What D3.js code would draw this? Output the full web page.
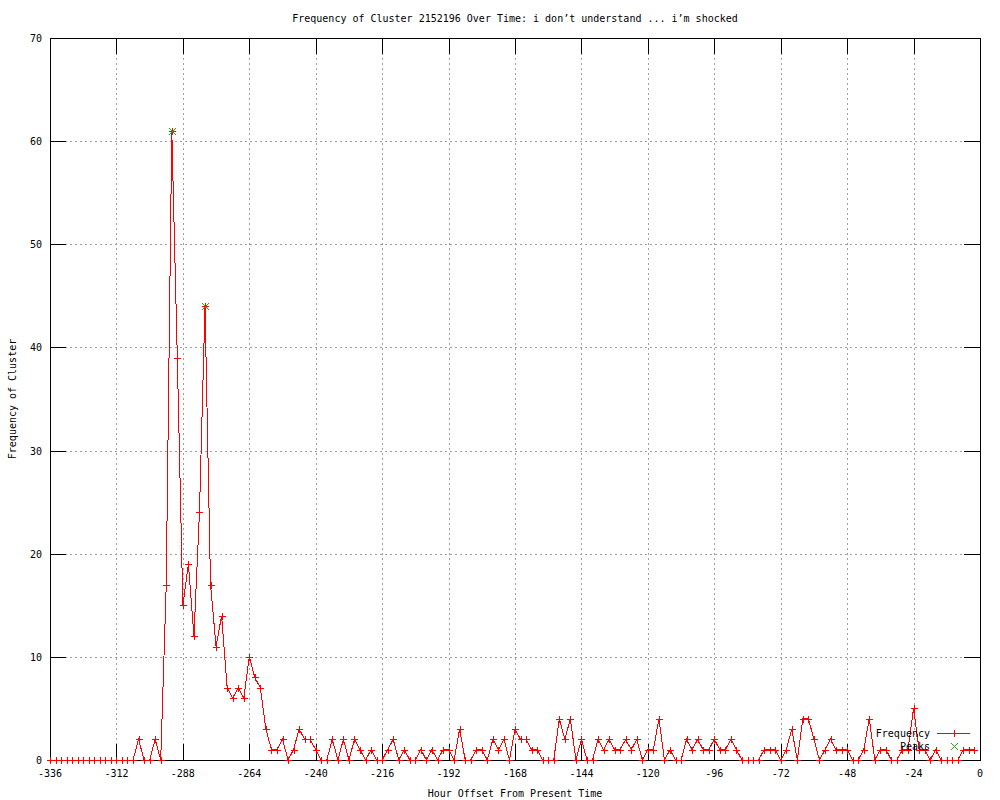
<!DOCTYPE html>
<html>
<head>
<meta charset="utf-8">
<script src="https://cdn.jsdelivr.net/npm/d3@7"></script>
<style>
  body { margin: 0; background: #fff; }
  text { font-family: 'DejaVu Sans Mono', monospace; font-size: 10px; fill: #000; }
</style>
</head>
<body>
<script>
const title = 'Frequency of Cluster 2152196 Over Time: i don’t understand ... i’m shocked';
const xLabel = 'Hour Offset From Present Time';
const yLabel = 'Frequency of Cluster';

// one count every 2 hours, starting at hour -336
const firstHour = -336;
const hourStep = 2;
const frequency = [
  0, 0, 0, 0, 0, 0, 0, 0, 0, 0, 0, 0, 0, 0, 0, 0,
  2, 0, 0, 2, 0,
  17, 61, 39, 15, 19, 12, 24, 44, 17, 11, 14,
  7, 6, 7, 6, 10, 8, 7, 3, 1, 1,
  2, 0, 1, 3, 2, 2, 1, 0, 0, 2,
  0, 2, 0, 2, 1, 0, 1, 0, 0, 1,
  2, 0, 1, 0, 0, 1, 0, 1, 0, 1,
  1, 0, 3, 0, 0, 1, 1, 0, 2, 1,
  2, 0, 3, 2, 2, 1, 1, 0, 0, 0,
  4, 2, 4, 0, 2, 0, 0, 2, 1, 2,
  1, 1, 2, 1, 2, 0, 1, 1, 4, 0,
  1, 0, 0, 2, 1, 2, 1, 1, 2, 1,
  1, 2, 1, 0, 0, 0, 0, 1, 1, 1,
  0, 1, 3, 0, 4, 4, 2, 0, 1, 2,
  1, 1, 1, 0, 0, 1, 4, 0, 1, 1,
  0, 0, 1, 1, 5, 1, 1, 0, 1, 0,
  0, 0, 0, 1, 1, 1,
];

const peakHours = [-292, -280];
const peakCounts = [61, 44];

const xTicks = [-336, -312, -288, -264, -240, -216, -192, -168, -144, -120, -96, -72, -48, -24, 0];
const yTicks = [0, 10, 20, 30, 40, 50, 60, 70];

const width = 1000;
const height = 800;
const plot = { left: 50, right: 980, top: 38, bottom: 760 };
const tickLen = 16;
const red = '#ff0000';
const green = '#00c000';

function main() {
  const svg = d3.select('body').append('svg').attr('width', width).attr('height', height);
  const [xScale, yScale] = createScales();

  createGrid(svg, xScale, yScale);
  createAxes(svg, xScale, yScale);
  createLabels(svg);

  const series = frequency.map((v, i) => ({ hour: firstHour + i * hourStep, count: v }));
  const peaks = peakHours.map((h, i) => ({ hour: h, count: peakCounts[i] }));

  const line = d3.line().x(d => xScale(d.hour)).y(d => yScale(d.count));

  svg.append('path')
    .datum(series)
    .attr('d', line)
    .attr('fill', 'none')
    .attr('stroke', red)
    .attr('stroke-width', 1)
    .attr('shape-rendering', 'crispEdges');

  svg.append('g')
    .selectAll('path')
    .data(series)
    .enter()
    .append('path')
    .attr('d', d => plus(xScale(d.hour), yScale(d.count)))
    .attr('stroke', red)
    .attr('shape-rendering', 'crispEdges');

  svg.append('g')
    .selectAll('path')
    .data(peaks)
    .enter()
    .append('path')
    .attr('d', d => cross(xScale(d.hour), yScale(d.count)))
    .attr('stroke', green)
    .attr('fill', 'none')
    .attr('shape-rendering', 'crispEdges');

  createLegend(svg);
}

function createScales() {
  const xScale = d3.scaleLinear().domain([-336, 0]).range([plot.left, plot.right]);
  const yScale = d3.scaleLinear().domain([0, 70]).range([plot.bottom, plot.top]);
  return [xScale, yScale];
}

function createGrid(svg, xScale, yScale) {
  const grid = svg.append('g')
    .attr('stroke', '#a0a0a0')
    .attr('stroke-dasharray', '2,3')
    .attr('shape-rendering', 'crispEdges');

  grid.selectAll('.gx')
    .data(xTicks.slice(1, -1))
    .enter()
    .append('line')
    .attr('x1', d => Math.round(xScale(d)) + 0.5)
    .attr('x2', d => Math.round(xScale(d)) + 0.5)
    .attr('y1', plot.top)
    .attr('y2', plot.bottom);

  grid.selectAll('.gy')
    .data(yTicks.slice(1, -1))
    .enter()
    .append('line')
    .attr('y1', d => Math.round(yScale(d)) + 0.5)
    .attr('y2', d => Math.round(yScale(d)) + 0.5)
    .attr('x1', plot.left)
    .attr('x2', plot.right);
}

function createAxes(svg, xScale, yScale) {
  // gnuplot style: ticks point inwards on all four sides
  const axes = svg.append('g').attr('shape-rendering', 'crispEdges');

  axes.append('g')
    .attr('transform', `translate(0, ${plot.bottom})`)
    .call(d3.axisTop(xScale).tickValues(xTicks).tickSize(tickLen).tickFormat(''))
    .call(g => g.select('.domain').remove());

  axes.append('g')
    .attr('transform', `translate(0, ${plot.top})`)
    .call(d3.axisBottom(xScale).tickValues(xTicks).tickSize(tickLen).tickFormat(''))
    .call(g => g.select('.domain').remove());

  axes.append('g')
    .attr('transform', `translate(${plot.left}, 0)`)
    .call(d3.axisRight(yScale).tickValues(yTicks).tickSize(tickLen).tickFormat(''))
    .call(g => g.select('.domain').remove());

  axes.append('g')
    .attr('transform', `translate(${plot.right}, 0)`)
    .call(d3.axisLeft(yScale).tickValues(yTicks).tickSize(tickLen).tickFormat(''))
    .call(g => g.select('.domain').remove());

  axes.selectAll('.tick line').attr('stroke', '#000');

  axes.append('rect')
    .attr('x', plot.left + 0.5)
    .attr('y', plot.top + 0.5)
    .attr('width', plot.right - plot.left)
    .attr('height', plot.bottom - plot.top)
    .attr('fill', 'none')
    .attr('stroke', '#000');

  svg.append('g')
    .selectAll('text')
    .data(xTicks)
    .enter()
    .append('text')
    .attr('x', d => xScale(d))
    .attr('y', plot.bottom + 17)
    .attr('text-anchor', 'middle')
    .text(d => d);

  svg.append('g')
    .selectAll('text')
    .data(yTicks)
    .enter()
    .append('text')
    .attr('x', plot.left - 8)
    .attr('y', d => yScale(d) + 4)
    .attr('text-anchor', 'end')
    .text(d => d);
}

function createLabels(svg) {
  const cx = (plot.left + plot.right) / 2;
  svg.append('text').attr('x', cx).attr('y', 22).attr('text-anchor', 'middle').text(title);
  svg.append('text').attr('x', cx).attr('y', 797).attr('text-anchor', 'middle').text(xLabel);
  svg.append('text')
    .attr('transform', `translate(16, ${(plot.top + plot.bottom) / 2}) rotate(-90)`)
    .attr('text-anchor', 'middle')
    .text(yLabel);
}

function createLegend(svg) {
  const legend = svg.append('g');
  const rows = [
    { label: 'Frequency', y: 733, color: red, mark: plus, line: true },
    { label: 'Peaks', y: 746, color: green, mark: cross, line: false },
  ];

  rows.forEach(r => {
    legend.append('text').attr('x', 930).attr('y', r.y + 4).attr('text-anchor', 'end').text(r.label);
    if (r.line) {
      legend.append('line')
        .attr('x1', 937).attr('x2', 970)
        .attr('y1', r.y + 0.5).attr('y2', r.y + 0.5)
        .attr('stroke', r.color)
        .attr('shape-rendering', 'crispEdges');
    }
    legend.append('path')
      .attr('d', r.mark(954, r.y))
      .attr('stroke', r.color)
      .attr('fill', 'none')
      .attr('shape-rendering', 'crispEdges');
  });
}

function plus(x, y) {
  x = Math.round(x) + 0.5;
  y = Math.round(y) + 0.5;
  return `M${x - 3.5},${y}H${x + 3.5}M${x},${y - 3.5}V${y + 3.5}`;
}

function cross(x, y) {
  x = Math.round(x) + 0.5;
  y = Math.round(y) + 0.5;
  return `M${x - 3.5},${y - 3.5}L${x + 3.5},${y + 3.5}M${x - 3.5},${y + 3.5}L${x + 3.5},${y - 3.5}`;
}

main();
</script>
</body>
</html>
